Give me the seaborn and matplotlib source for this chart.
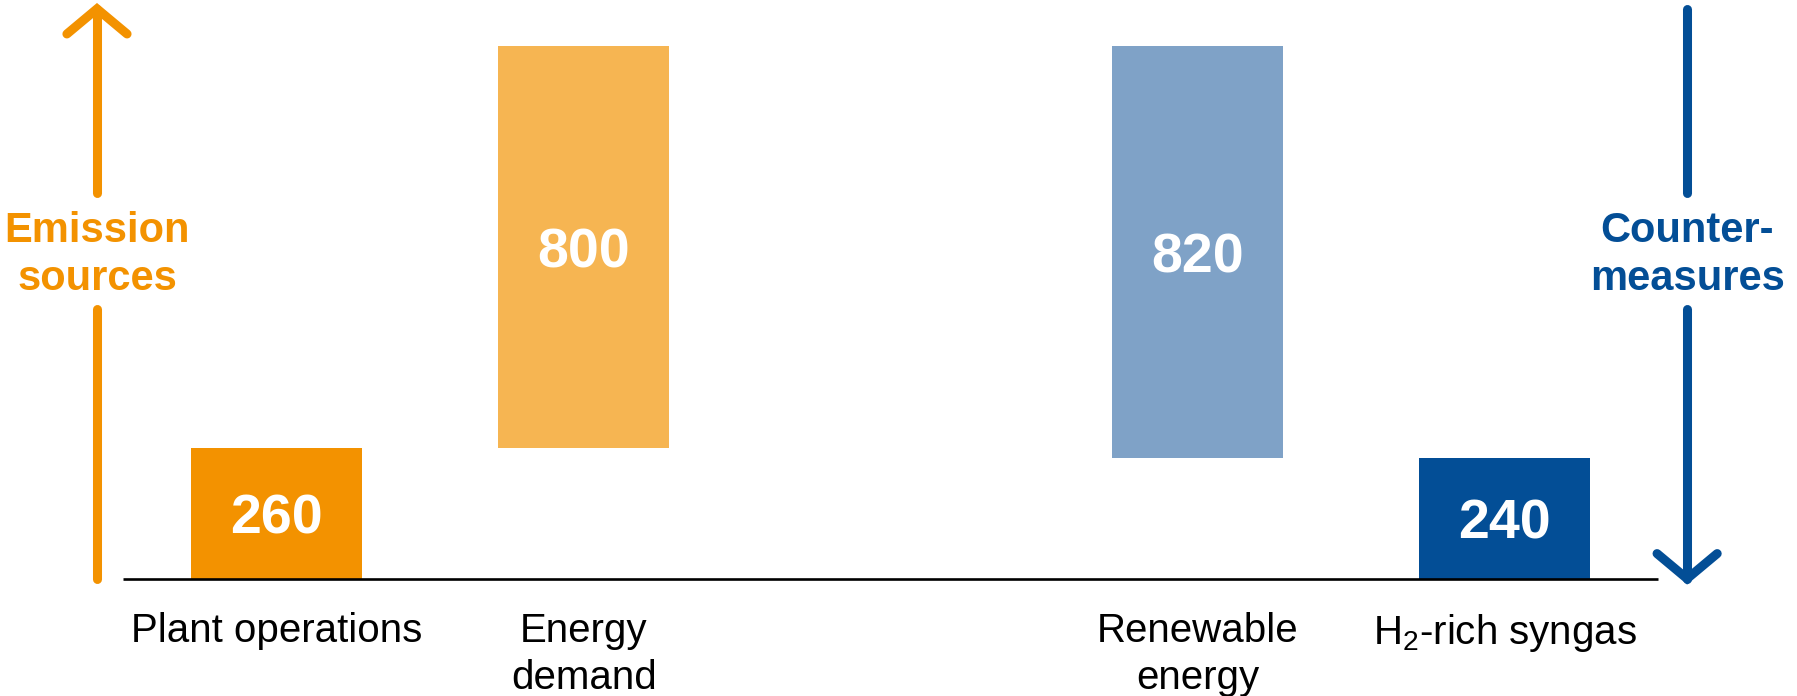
import numpy as np
import pandas as pd
import matplotlib
matplotlib.use("Agg")
import matplotlib.pyplot as plt
import seaborn as sns

# Waterfall of CO2 balance: emission sources push up, countermeasures pull down
categories = ["Plant operations", "Energy\ndemand", "Renewable\nenergy", "H$_2$-rich syngas"]
amounts = [260, 800, 820, 240]
direction = [1, 1, -1, -1]          # +1 adds emissions, -1 removes them
bar_colors = ["#F39200", "#F6B552", "#7FA2C7", "#034E96"]
group_labels = ["Emission\nsources", "Counter-\nmeasures"]
group_colors = ["#F39200", "#034E96"]

sns.set_theme(style="white")
plt.rcParams["font.family"] = ["Liberation Sans", "DejaVu Sans"]
plt.rcParams["mathtext.fontset"] = "custom"
plt.rcParams["mathtext.rm"] = "Liberation Sans"
plt.rcParams["mathtext.it"] = "Liberation Sans:italic"
plt.rcParams["mathtext.bf"] = "Liberation Sans:bold"

signed = np.array(amounts) * np.array(direction)
ends = np.cumsum(signed)
starts = ends - signed
lows = np.minimum(starts, ends)
highs = np.maximum(starts, ends)

slots = [0, 1, 3, 4]   # one empty slot separates sources from countermeasures
df = pd.DataFrame({"slot": slots, "category": categories, "high": highs})

fig = plt.figure(figsize=(17.97, 6.96), dpi=100)
ax = fig.add_axes([0, 0, 1, 1])

sns.barplot(data=df, x="slot", y="high", hue="category", palette=bar_colors,
            native_scale=True, width=0.557, dodge=False, legend=False,
            saturation=1, linewidth=0, ax=ax)
# float each bar between its running totals
for patch, low, high in zip(ax.patches, lows, highs):
    patch.set_y(low)
    patch.set_height(high - low)

ax.set_xlim(-0.902, 4.953)
ax.set_ylim(-233.4, 1151.6)
ax.axis("off")

# baseline
ax.plot([-0.5, 4.5], [0, 0], color="black", lw=1.9, solid_capstyle="butt", zorder=3)

# value labels inside bars
for s, lo, hi, a in zip(slots, lows, highs, amounts):
    ax.text(s, (lo + hi) / 2 - 13, f"{a}", color="white", fontsize=40, fontweight="bold",
            ha="center", va="center", zorder=4)

# category labels under the baseline
for s, c in zip(slots, categories):
    ax.text(s, -66, c, color="black", fontsize=29, ha="center", va="top",
            linespacing=1.32)

# direction arrows with their group labels
def direction_arrow(x, color, up, label):
    lw = 6.5
    kw = dict(color=color, lw=lw, solid_capstyle="round", solid_joinstyle="miter")
    top, bottom = 1134, 0
    gap_lo, gap_hi = 536, 768
    ax.plot([x, x], [gap_hi, top], **kw)
    ax.plot([x, x], [bottom, gap_lo], **kw)
    if up:
        tip, arm = top, top - 50
    else:
        tip, arm = bottom, bottom + 50
    ax.plot([x - 0.098, x, x + 0.098], [arm, tip, arm], **kw)
    ax.text(x, (gap_lo + gap_hi) / 2 - 8, label, color=color, fontsize=30,
            fontweight="bold", ha="center", va="center", linespacing=1.26)

direction_arrow(-0.586, group_colors[0], True, group_labels[0])
direction_arrow(4.595, group_colors[1], False, group_labels[1])

fig.savefig("out.png", dpi=100, facecolor="white")
